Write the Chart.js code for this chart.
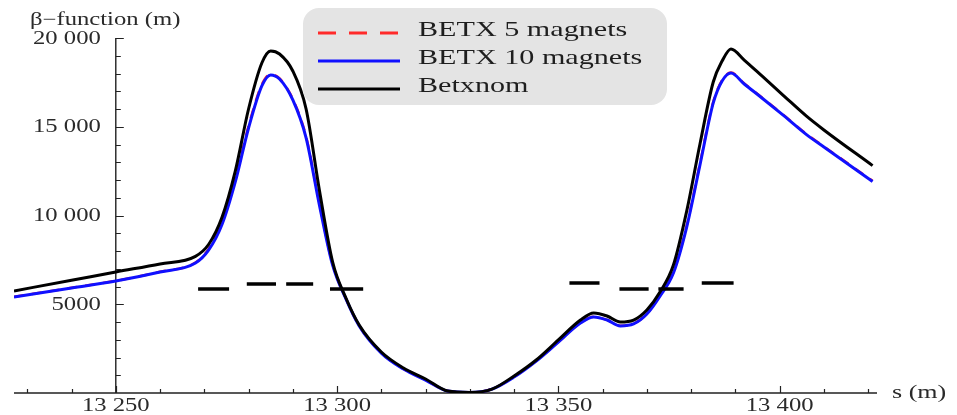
<!DOCTYPE html>
<html>
<head>
<meta charset="utf-8">
<script src="https://cdn.jsdelivr.net/npm/chart.js@4.4.0/dist/chart.umd.min.js"></script>
<style>
  html, body { margin: 0; padding: 0; background: #fff; }
</style>
</head>
<body>
<canvas id="chart" width="957" height="415"></canvas>
<script>
// ---- data ----
const sPos = [13227, 13240, 13250, 13260, 13268, 13271, 13274, 13277, 13280, 13283, 13285, 13287, 13290, 13293, 13296, 13299, 13302, 13305, 13310, 13315, 13320, 13325, 13330, 13335, 13340, 13345, 13350, 13355, 13358, 13361, 13364, 13367, 13370, 13373, 13376, 13379, 13382, 13385, 13387, 13389, 13392, 13396, 13401, 13406, 13410, 13421];

const betxNom = [5750, 6350, 6820, 7270, 7700, 8380, 9900, 12500, 16000, 18590, 19270, 19100, 18140, 16000, 11440, 7380, 5350, 3830, 2310, 1410, 790, 110, 30, 220, 960, 1860, 2990, 4110, 4510, 4340, 4000, 4110, 4680, 5700, 7210, 10250, 14030, 17520, 18700, 19380, 18760, 17860, 16730, 15610, 14820, 12810];

const betx10 = [5410, 5920, 6310, 6820, 7320, 8060, 9490, 11890, 14930, 17300, 17920, 17690, 16510, 14370, 10600, 7200, 5300, 3780, 2250, 1350, 730, 110, 30, 220, 900, 1800, 2870, 3940, 4280, 4110, 3780, 3890, 4450, 5470, 6760, 9350, 12850, 16340, 17580, 18030, 17410, 16620, 15610, 14570, 13860, 11920];

const betx5 = [5420, 5930, 6320, 6830, 7350, 8120, 9600, 12000, 15050, 17380, 17960, 17720, 16560, 14450, 10700, 7250, 5320, 3790, 2260, 1360, 740, 110, 30, 220, 910, 1810, 2880, 3950, 4290, 4120, 3790, 3900, 4470, 5520, 6820, 9430, 12940, 16410, 17620, 18060, 17440, 16650, 15640, 14600, 13890, 11950];

// short black bars (magnet positions)
const magnetStart = [13268.6, 13279.6, 13288.5, 13298.4, 13352.5, 13363.8, 13372.6, 13382.4];
const magnetEnd   = [13275.6, 13286.2, 13294.6, 13305.9, 13359.3, 13370.4, 13378.3, 13389.6];
const magnetBeta  = [5860, 6140, 6140, 5860, 6200, 5860, 5860, 6200];

const xTickValues = [13250, 13300, 13350, 13400];
const xTickLabels = ['13 250', '13 300', '13 350', '13 400'];
const yTickValues = [5000, 10000, 15000, 20000];
const yTickLabels = ['5000', '10 000', '15 000', '20 000'];
const legendLabels = ['BETX 5 magnets', 'BETX 10 magnets', 'Betxnom'];

// ---- helpers ----
const STRETCH = 1.37;   // the original text is drawn wide
const SERIF = '"Liberation Serif", "DejaVu Serif", serif';

function drawText(ctx, text, x, y, font, align, baseline) {
  ctx.save();
  ctx.translate(x, y);
  ctx.scale(STRETCH, 1);
  ctx.font = font + ' ' + SERIF;
  ctx.textAlign = align;
  ctx.textBaseline = baseline;
  ctx.fillText(text, 0, 0);
  ctx.restore();
}

const toPoints = (vals) => sPos.map((s, i) => ({ x: s, y: vals[i] }));

const magnetPoints = [];
magnetStart.forEach((s, i) => {
  magnetPoints.push({ x: s, y: magnetBeta[i] });
  magnetPoints.push({ x: magnetEnd[i], y: magnetBeta[i] });
  magnetPoints.push({ x: magnetEnd[i], y: null });
});

// ---- axes drawn Mathematica style (ticks inside) ----
const axesPlugin = {
  id: 'mmaAxes',
  beforeDatasetsDraw(chart) {
    const { ctx, chartArea, scales: { x, y } } = chart;
    const x0 = x.getPixelForValue(13250);
    const y0 = y.getPixelForValue(0);
    ctx.save();
    ctx.strokeStyle = '#222';
    ctx.lineWidth = 1.4;
    ctx.beginPath();
    ctx.moveTo(chartArea.left, y0);
    ctx.lineTo(chartArea.right, y0);
    ctx.moveTo(x0, y0);
    ctx.lineTo(x0, y.getPixelForValue(20000));
    ctx.stroke();

    ctx.lineWidth = 1.2;
    ctx.beginPath();
    for (let v = 13230; v <= 13420; v += 10) {
      const px = Math.round(x.getPixelForValue(v)) + 0.5;
      const len = v % 50 === 0 ? 7 : 4;
      ctx.moveTo(px, y0);
      ctx.lineTo(px, y0 - len);
    }
    for (let v = 1000; v <= 20000; v += 1000) {
      const py = Math.round(y.getPixelForValue(v)) + 0.5;
      const len = v % 5000 === 0 ? 8 : 5;
      ctx.moveTo(x0, py);
      ctx.lineTo(x0 + len, py);
    }
    ctx.stroke();
    ctx.restore();
  },
  afterDraw(chart) {
    const { ctx, scales: { x, y } } = chart;
    const x0 = x.getPixelForValue(13250);
    const y0 = y.getPixelForValue(0);
    ctx.save();
    ctx.fillStyle = '#2a2a2a';
    xTickValues.forEach((v, i) => drawText(ctx, xTickLabels[i], x.getPixelForValue(v), y0 + 13, '18px', 'center', 'middle'));
    yTickValues.forEach((v, i) => drawText(ctx, yTickLabels[i], x0 - 15, y.getPixelForValue(v) + 1, '18px', 'right', 'middle'));
    drawText(ctx, '\u03B2\u2212function (m)', 30, 20, '18px', 'left', 'middle');
    drawText(ctx, 's (m)', 892, y0, '19px', 'left', 'middle');

    // legend box
    ctx.fillStyle = '#e4e4e4';
    ctx.beginPath();
    ctx.roundRect(303, 8, 364, 97, 16);
    ctx.fill();
    const ds = chart.data.datasets;
    legendLabels.forEach((label, i) => {
      const ly = 33 + i * 28;
      ctx.save();
      ctx.strokeStyle = ds[i].borderColor;
      ctx.lineWidth = 3;
      ctx.setLineDash(ds[i].borderDash ? [18, 13] : []);
      ctx.beginPath();
      ctx.moveTo(318, ly);
      ctx.lineTo(400, ly);
      ctx.stroke();
      ctx.restore();
      ctx.fillStyle = '#1e1e1e';
      drawText(ctx, label, 418, ly + 3, '22px', 'left', 'alphabetic');
    });
    ctx.restore();
  }
};

new Chart(document.getElementById('chart'), {
  type: 'line',
  data: {
    datasets: [
      {
        label: legendLabels[0],
        data: toPoints(betx5),
        borderColor: '#ff2a2a',
        borderWidth: 2.5,
        borderDash: [10, 8],
        pointRadius: 0,
        cubicInterpolationMode: 'monotone',
        order: 3,
      },
      {
        label: legendLabels[1],
        data: toPoints(betx10),
        borderColor: '#1010ff',
        borderWidth: 3,
        pointRadius: 0,
        cubicInterpolationMode: 'monotone',
        order: 2,
      },
      {
        label: legendLabels[2],
        data: toPoints(betxNom),
        borderColor: '#000000',
        borderWidth: 3,
        pointRadius: 0,
        cubicInterpolationMode: 'monotone',
        order: 1,
      },
      {
        label: 'magnets',
        data: magnetPoints,
        borderColor: '#000000',
        borderWidth: 3.5,
        borderCapStyle: 'butt',
        pointRadius: 0,
        spanGaps: false,
        order: 0,
      },
    ],
  },
  options: {
    responsive: false,
    devicePixelRatio: 1,
    animation: false,
    layout: { padding: { left: 14, right: 80, top: 38, bottom: 22 } },
    plugins: { legend: { display: false }, tooltip: { enabled: false } },
    scales: {
      x: { type: 'linear', min: 13227, max: 13422, display: false },
      y: { min: 0, max: 20000, display: false },
    },
  },
  plugins: [axesPlugin],
});
</script>
</body>
</html>
